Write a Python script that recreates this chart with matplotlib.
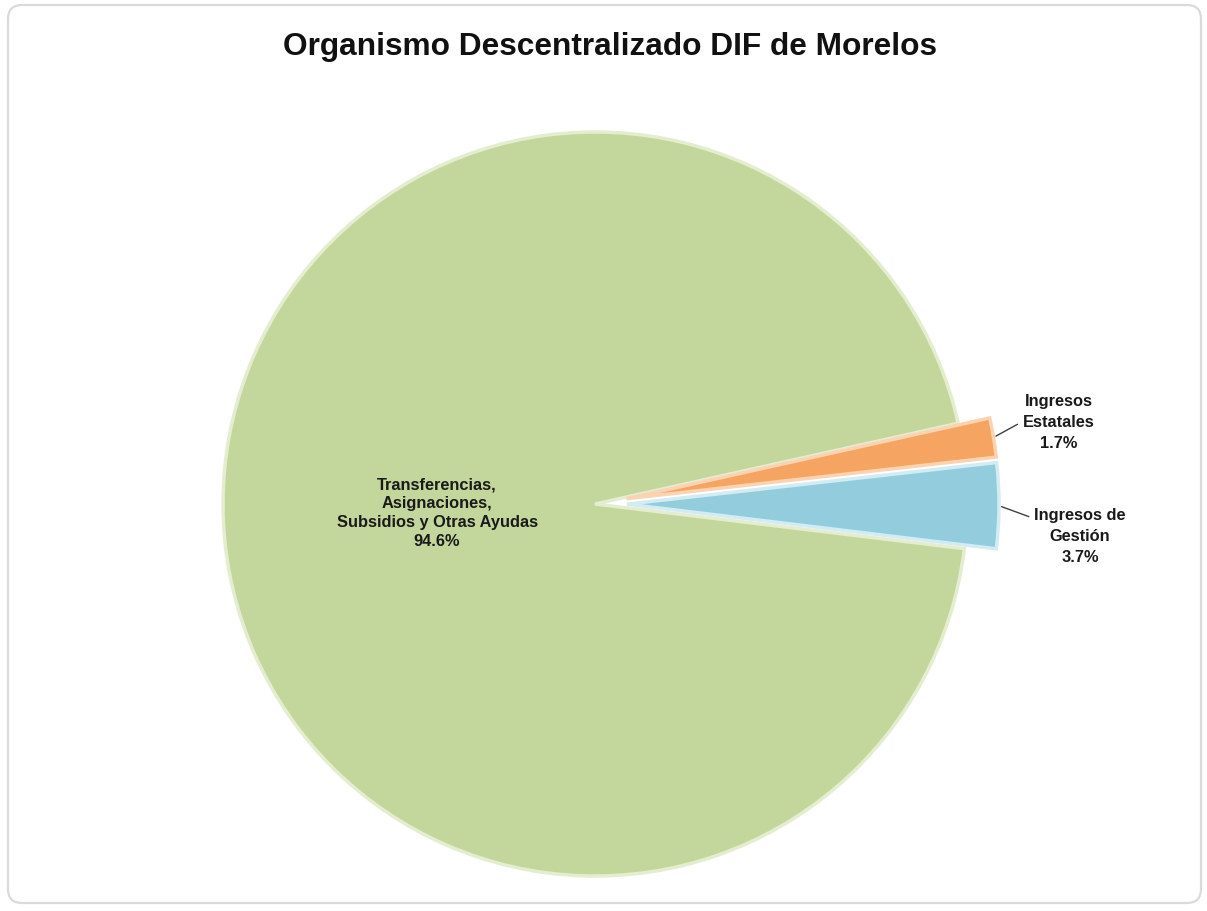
import numpy as np
import matplotlib
matplotlib.use("Agg")
import matplotlib.pyplot as plt
from matplotlib.patches import FancyBboxPatch

titulo = "Organismo Descentralizado DIF de Morelos"
rubros = ["Transferencias,\nAsignaciones,\nSubsidios y Otras Ayudas",
          "Ingresos\nEstatales",
          "Ingresos de\nGestión"]
porcentajes = [94.6, 1.7, 3.7]
colores = ["#C3D69B", "#F5A461", "#93CDDD"]
bordes = ["#E4EDCF", "#FBD3B0", "#D2ECF3"]

plt.rcParams['font.family'] = ['Liberation Sans', 'DejaVu Sans']

W, H = 1207, 912
fig = plt.figure(figsize=(W / 100, H / 100), dpi=100)
ax = fig.add_axes([0, 0, 1, 1])

# marco redondeado
marco = FancyBboxPatch((8, 8), W - 14, H - 14, boxstyle="round,pad=0,rounding_size=14",
                       facecolor="white", edgecolor="#DADADA", linewidth=1.6, zorder=0)
ax.add_patch(marco)

cx, cy, r = 595, H - 505, 372
sep = 32  # separación de los sectores pequeños (en px)
wedges, _ = ax.pie(porcentajes, colors=colores, radius=r, center=(cx, cy),
                   startangle=-6.9, counterclock=False, explode=[0, sep, sep],
                   wedgeprops=dict(linewidth=2.5), frame=True)
for w, b in zip(wedges, bordes):
    w.set_edgecolor(b)
    w.set_zorder(2)
ax.set_xlim(0, W)
ax.set_ylim(0, H)
ax.set_aspect('equal')
ax.axis('off')

fs = 11.8
# etiqueta del sector grande, dentro
w0 = wedges[0]
ang = np.deg2rad((w0.theta1 + w0.theta2) / 2)
ax.text(cx + 0.425 * r * np.cos(ang), cy + 0.425 * r * np.sin(ang),
        f"{rubros[0]}\n{porcentajes[0]:.1f}%", ha='center', va='center',
        fontsize=fs, fontweight='bold', linespacing=1.32, color="#1A1A1A", zorder=3)

# etiquetas de sectores pequeños con línea guía
desplaz = [None, (65, 16), (81, -30)]
relpos = [None, (0, 0.5), (0, 0.8)]
for i in (1, 2):
    w = wedges[i]
    a = np.deg2rad((w.theta1 + w.theta2) / 2)
    x0, y0 = w.center
    px, py = x0 + r * np.cos(a), y0 + r * np.sin(a)
    dx, dy = desplaz[i]
    ax.annotate(f"{rubros[i]}\n{porcentajes[i]:.1f}%", xy=(px, py),
                xytext=(px + dx, py + dy), ha='center', va='center',
                fontsize=fs, fontweight='bold', linespacing=1.5, color="#1A1A1A",
                arrowprops=dict(arrowstyle='-', color="#404040", lw=1.0,
                                relpos=relpos[i], shrinkA=2, shrinkB=2),
                zorder=3)

ax.text(610, H - 47, titulo, ha='center', va='center', fontsize=22.8,
        fontweight='bold', color="#111111")

fig.savefig("out.png", dpi=100)
